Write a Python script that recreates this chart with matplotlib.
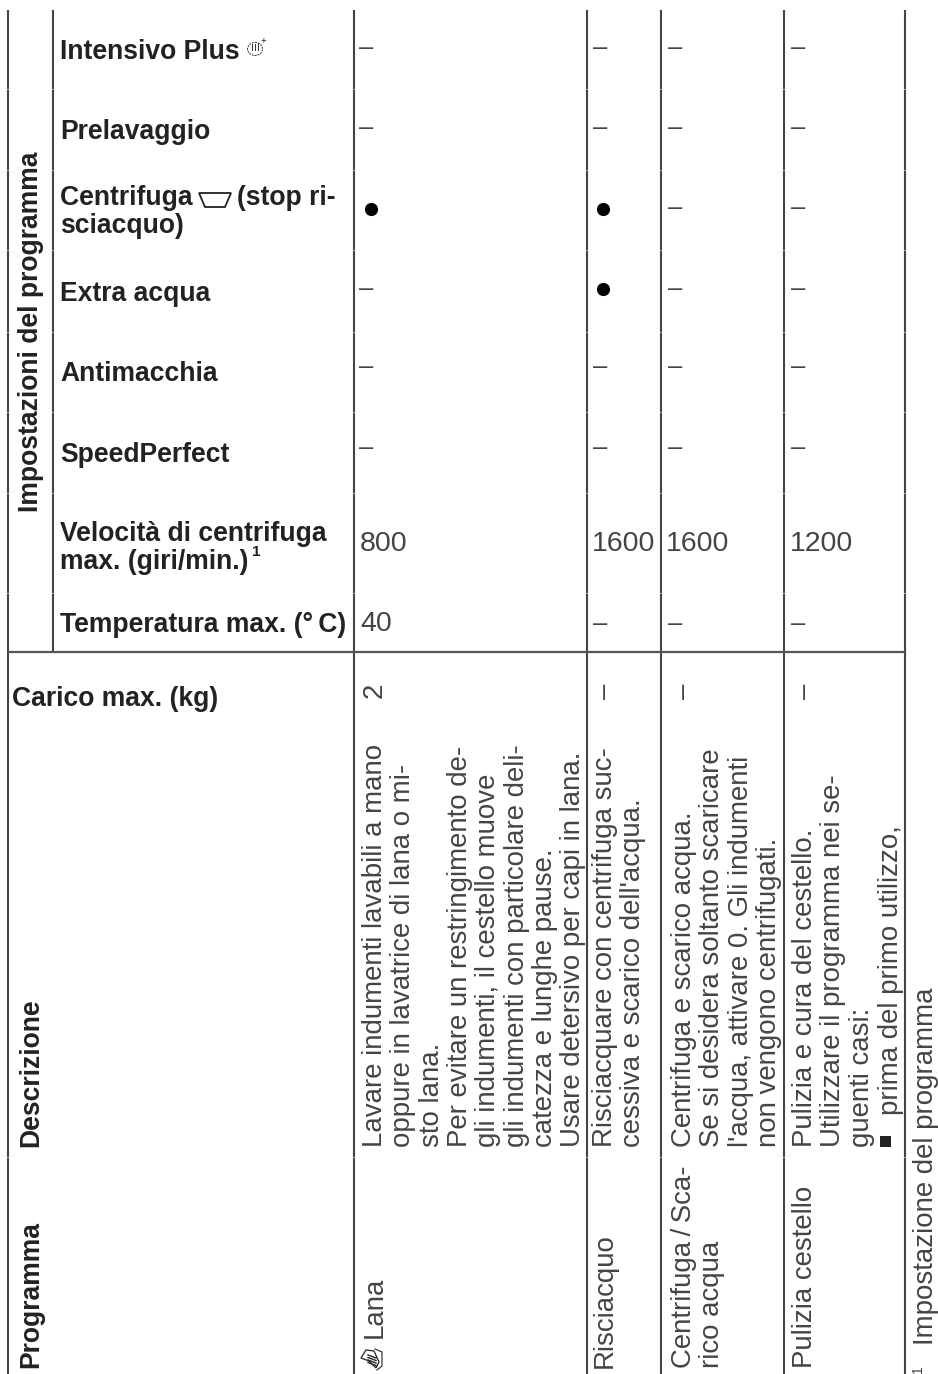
import matplotlib
matplotlib.use("Agg")
import matplotlib.pyplot as plt
from matplotlib.patches import Polygon, Ellipse, Rectangle

plt.rcParams["font.family"] = ["Liberation Sans", "DejaVu Sans"]

# --- contenuto della tabella ---
settings_title = "Impostazioni del programma"
setting_labels = [
    ["Intensivo Plus"],
    ["Prelavaggio"],
    ["Centrifuga      (stop ri-", "sciacquo)"],
    ["Extra acqua"],
    ["Antimacchia"],
    ["SpeedPerfect"],
    ["Velocità di centrifuga", "max. (giri/min.)"],
    ["Temperatura max. (°\u2009C)"],
]
lana_values = ["–", "–", "•", "–", "–", "–", "800", "40"]
risciacquo_values = ["–", "–", "•", "•", "–", "–", "1600", "–"]
centrifuga_values = ["–", "–", "–", "–", "–", "–", "1600", "–"]
pulizia_values = ["–", "–", "–", "–", "–", "–", "1200", "–"]
carico_label = "Carico max. (kg)"
carico_values = ["2", "–", "–", "–"]
programmi = [["Lana"], ["Risciacquo"], ["Centrifuga\u2009/\u2009Sca-", "rico acqua"], ["Pulizia cestello"]]
descrizioni = [
    ["Lavare indumenti lavabili a mano", "oppure in lavatrice di lana o mi-", "sto lana.",
     "Per evitare un restringimento de-", "gli indumenti, il cestello muove",
     "gli indumenti con particolare deli-", "catezza e lunghe pause.",
     "Usare detersivo per capi in lana."],
    ["Risciacquare con centrifuga suc-", "cessiva e scarico dell'acqua."],
    ["Centrifuga e scarico acqua.", "Se si desidera soltanto scaricare",
     "l'acqua, attivare 0. Gli indumenti", "non vengono centrifugati."],
    ["Pulizia e cura del cestello.", "Utilizzare il programma nei se-", "guenti casi:"],
]
bullet_text = "prima del primo utilizzo,"
footnote = "Impostazione del programma"

# --- layout in pixel ---
W, H = 938, 1374
INK_B = "#222222"
INK = "#444444"
LINE = "#444444"
FS_B = 19.1
FS = 19.9

fig = plt.figure(figsize=(W / 100, H / 100), dpi=100)
fig.patch.set_facecolor("white")
ax = fig.add_axes([0, 0, 1, 1])
ax.set_xlim(0, W)
ax.set_ylim(H, 0)
ax.axis("off")

top = 10
for x in [8, 354, 587, 661, 784, 905]:
    ax.plot([x, x], [top, H], color=LINE, lw=1.5, solid_capstyle="butt")
ax.plot([53, 53], [top, 652], color=LINE, lw=1.5, solid_capstyle="butt")
ax.plot([8, 905], [652, 652], color="#555555", lw=1.6, solid_capstyle="butt")
# righe chiarissime tra le celle
for y in [89, 170, 250, 332, 412, 493, 593, 1157]:
    ax.plot([0, W], [y, y], color="white", lw=0.6, alpha=0.7)


def bold(x, y, s, **kw):
    ax.text(x, y, s, fontsize=kw.pop("fontsize", FS_B), fontweight="bold", color=INK_B,
            ha="left", va="baseline", **kw)


def rot(x, y, s, **kw):
    ax.text(x, y, s, rotation=90, rotation_mode="anchor", ha="left", va="baseline", **kw)


def reg(x, y, s, **kw):
    ax.text(x, y, s, fontsize=kw.pop("fontsize", FS), color=INK, fontweight="normal",
            ha="left", va="baseline", **kw)


# Etichette impostazioni
label_base = [59, 139, 205, 301, 381, 462, 541, 632]
value_base = [55, 135, 0, 296, 374, 455, 551, 631]
for base, lines in zip(label_base, setting_labels):
    for i, s in enumerate(lines):
        bold(60, base + i * 28, s)
bold(252, 556, "1", fontsize=11)
rot(38, 512, settings_title, fontsize=FS_B, fontweight="bold", color=INK_B)

# Valori: colonne dei quattro programmi
columns = [(360, 359, lana_values), (592, 593, risciacquo_values),
           (666, 668, centrifuga_values), (790, 791, pulizia_values)]
dot_y = {2: 209, 3: 289}
for x, dash_x, vals in columns:
    for r, v in enumerate(vals):
        if v == "•":
            ax.plot([x + 11], [dot_y[r]], "o", color="black", ms=9.5, mew=0)
        elif v == "–":
            y = value_base[r] if r != 2 else 215
            reg(dash_x, y, v, fontsize=18.5)
        else:
            reg(x, value_base[r], v, fontsize=20.5)

# Carico
bold(12, 706, carico_label)
for x, v in zip([382, 612, 691, 812], carico_values):
    rot(x, 698 if v == "2" else 699, v, fontsize=FS, color=INK)

# Intestazioni in basso
rot(38, 1368, "Programma", fontsize=FS_B, fontweight="bold", color=INK_B)
rot(38, 1147, "Descrizione", fontsize=FS_B, fontweight="bold", color=INK_B)

# Programmi e descrizioni
prog_base = [382, 612, 691, 812]
prog_start = [1338, 1368, 1368, 1368]
desc_base = [382, 612, 691, 812]
for b, st, lines in zip(prog_base, prog_start, programmi):
    for i, s in enumerate(lines):
        rot(b + i * 28, st, s, fontsize=FS, color=INK)
for b, lines in zip(desc_base, descrizioni):
    for i, s in enumerate(lines):
        rot(b + i * 28.3, 1147, s, fontsize=FS, color=INK)
ax.add_patch(Rectangle((880, 1136), 11, 11, color="#222222", lw=0))
rot(898, 1115, bullet_text, fontsize=FS, color=INK)

# Nota a pie' di pagina
rot(922, 1373, "1", fontsize=10, color=INK)
rot(933, 1345, footnote, fontsize=FS, color=INK)

# Simboli
# vaschetta
ax.add_patch(Polygon([(199, 193), (231, 193), (225, 207), (205, 207)], closed=True,
                     fill=False, ec="#222222", lw=1.3))
# lavaggio intensivo
ax.add_patch(Ellipse((255, 49), 15, 13, fill=False, ec="#333333", lw=0.7, ls=(0, (2, 1))))
for dx in [-3, 0, 3]:
    ax.plot([255 + dx, 255 + dx], [44, 50], color="#333333", lw=0.7)
ax.text(263, 41, "+", fontsize=7, color="#333333", ha="center", va="center")
# lavaggio a mano (Lana)
ax.add_patch(Polygon([(361, 1358), (366, 1350), (374, 1351), (379, 1362), (376, 1368), (369, 1361)],
                     closed=True, fill=False, ec="#222222", lw=0.9))
for dy in [-3, -0.5, 2, 4.5]:
    ax.plot([368, 376], [1358 + dy, 1361 + dy], color="#222222", lw=1.0)
ax.plot([375, 382, 382, 377], [1349, 1352, 1366, 1370], color="#222222", lw=0.8)

fig.savefig("out.png", dpi=100)
plt.close(fig)
